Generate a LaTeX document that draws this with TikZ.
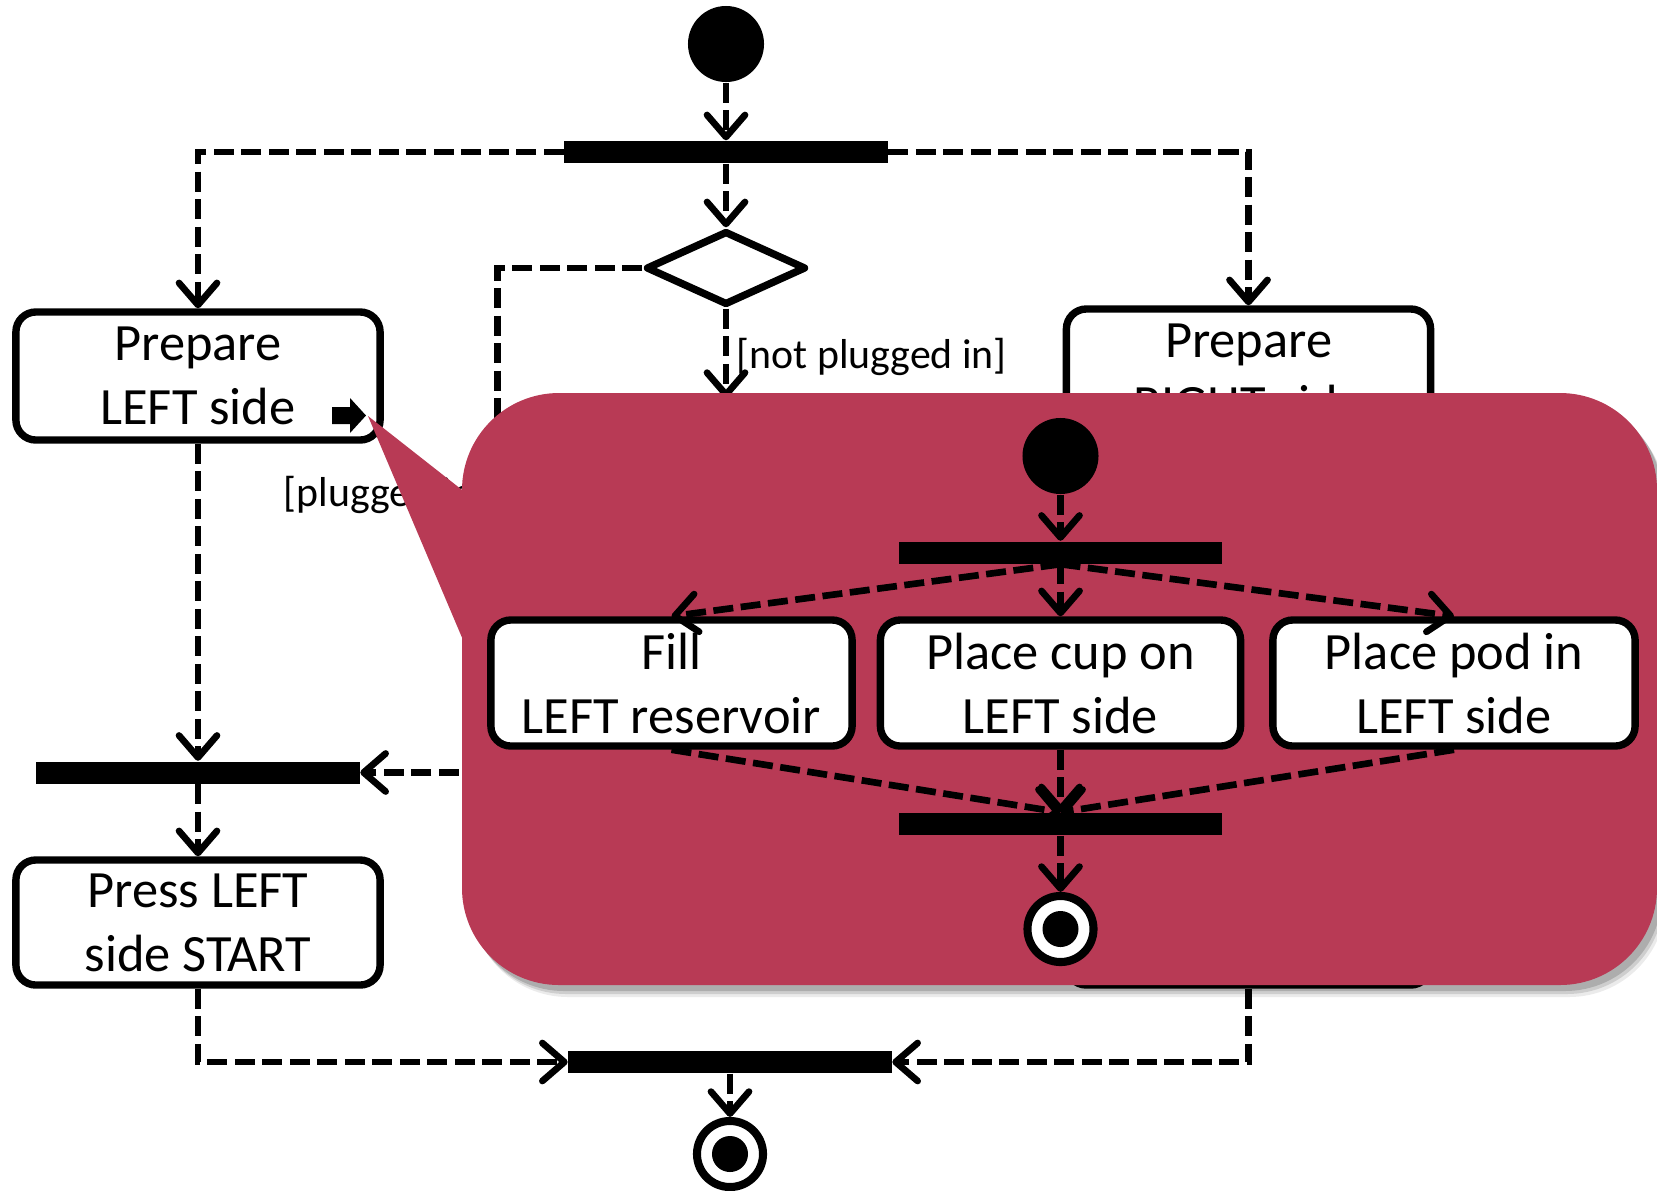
\documentclass[tikz,border=0pt]{standalone}
\usepackage{fontspec}
\setmainfont{Carlito}
\usetikzlibrary{arrows.meta,shapes.geometric}
\definecolor{calloutred}{RGB}{184,58,85}
\begin{document}
\begin{tikzpicture}[x=0.01cm,y=-0.01cm,
  action/.style={draw, line width=2.1pt, rounded corners=0.2cm, fill=white,
    align=center, inner sep=0pt, minimum width=3.64cm, minimum height=1.28cm,
    font=\fontsize{14.9}{18.2}\selectfont},
  bar/.style={fill=black, inner sep=0pt, minimum width=3.23cm, minimum height=0.22cm},
  initial/.style={circle, fill=black, inner sep=0pt, minimum size=0.76cm},
  final/.style={circle, draw, line width=2.3pt, fill=white, inner sep=0pt,
    minimum size=0.66cm,
    path picture={\fill[black] (path picture bounding box.center) circle[radius=0.18cm];}},
  decision/.style={diamond, draw, line width=2.1pt, line join=round, fill=white,
    inner sep=0pt, minimum width=1.60cm, minimum height=0.74cm},
  flow/.style={line width=1.9pt, dash pattern=on 0.2cm off 0.075cm,
    -{Straight Barb[length=0.22cm,width=0.38cm,round,line width=1.9pt]}},
  guard/.style={font=\fontsize{11.9}{14}\selectfont, inner sep=0pt}]

\useasboundingbox (0,0) rectangle (1657,1190);

% ---- main activity ----
\node[initial] (start) at (726,44) {};
\node[bar] (fork) at (726,152) {};
\node[decision] (dec) at (726,268) {};
\node[action] (prepL) at (198,376) {Prepare\\LEFT side};
\node[action] (prepR) at (1248.5,373) {Prepare\\RIGHT side};
\node[bar] (joinL) at (198,772.5) {};
\node[action, minimum height=1.25cm] (pressL) at (198,922.5) {Press LEFT\\side START};
\node[action, minimum height=1.25cm] (pressR) at (1248.5,922.5) {};
\node[bar] (joinF) at (730,1062) {};
\node[final] (finish) at (730,1154) {};
\coordinate (plugin) at (726,398);

% call-behaviour marker of "Prepare LEFT side"
\fill (332,407) -- (350,407) -- (350,398) -- (366,415.5) -- (350,433) -- (350,424) -- (332,424) -- cycle;

\draw[flow] (start) -- (fork);
\draw[flow] (fork) -- (dec);
\draw[flow] (fork.west) -| (prepL.north);
\draw[flow] (fork.east) -| (prepR.north);
\draw[flow] (dec) -- (plugin);
\draw[flow] (dec.west) -- ++(-145,0) |- (joinL.east);
\draw[flow] (prepL) -- (joinL);
\draw[flow] (joinL) -- (pressL);
\draw[flow] (pressL.south) |- (joinF.west);
\draw[flow] (pressR.south) |- (joinF.east);
\draw[flow] (joinF) -- (finish);

\node[guard, anchor=west] (gnot) at (736,357) {[not plugged in]};
\node[guard, anchor=west] (gplug) at (283,495) {[plugged in]};

% ---- callout with the nested activity ----
\foreach \dx/\dy/\op in {9/12/0.08, 7/9/0.12, 5/6/0.16}{
  \fill[black, opacity=\op, shift={(\dx,\dy)}]
    [rounded corners=0.97cm] (462,393) -- (1657,393) -- (1657,985) -- (462,985) -- cycle
    [sharp corners] (368,416) -- (480,504) -- (480,680) -- cycle;
}
\fill[calloutred]
  [rounded corners=0.97cm] (462,393) -- (1657,393) -- (1657,985) -- (462,985) -- cycle
  [sharp corners] (368,416) -- (480,504) -- (480,680) -- cycle;

\node[initial] (istart) at (1060.5,456) {};
\node[bar] (ifork) at (1060.5,552.5) {};
\node[action, minimum width=3.61cm, minimum height=1.26cm] (fillL) at (671.5,683) {Fill\\LEFT reservoir};
\node[action, minimum width=3.60cm, minimum height=1.26cm] (cupL) at (1060.5,683) {Place cup on\\LEFT side};
\node[action, minimum width=3.62cm, minimum height=1.26cm] (podL) at (1454,683) {Place pod in\\LEFT side};
\node[bar] (ijoin) at (1060.5,824) {};
\node[final] (iend) at (1060.5,929) {};

\draw[flow] (istart) -- (ifork);
\draw[flow] (ifork.south) -- (fillL.north);
\draw[flow] (ifork) -- (cupL);
\draw[flow] (ifork.south) -- (podL.north);
\draw[flow] (fillL.south) -- (ijoin.north);
\draw[flow] (cupL) -- (ijoin);
\draw[flow] (podL.south) -- (ijoin.north);
\draw[flow] (ijoin) -- (iend);
\end{tikzpicture}
\end{document}
